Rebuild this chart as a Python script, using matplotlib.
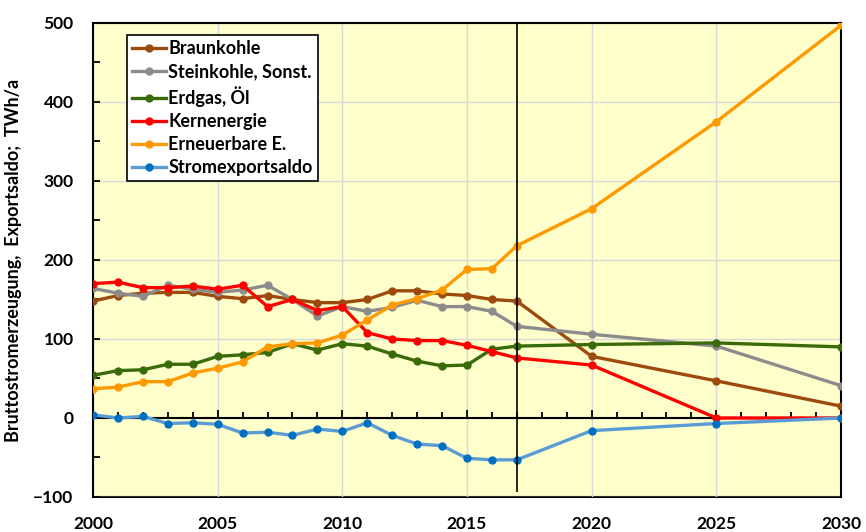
import matplotlib.pyplot as plt
from matplotlib.ticker import MultipleLocator

years = [2000, 2001, 2002, 2003, 2004, 2005, 2006, 2007, 2008, 2009, 2010,
         2011, 2012, 2013, 2014, 2015, 2016, 2017, 2020, 2025, 2030]

braunkohle = [148, 155, 158, 159, 159, 154, 151, 155, 150, 146, 146,
              150, 161, 161, 157, 155, 150, 148, 78, 47, 15]
steinkohle = [164, 158, 154, 168, 163, 159, 162, 168, 150, 129, 141,
              135, 140, 149, 141, 141, 135, 116, 106, 91, 41]
erdgas = [54, 60, 61, 68, 68, 78, 80, 83, 94, 86, 94,
          91, 81, 72, 66, 67, 87, 91, 93, 95, 90]
kernenergie = [170, 172, 165, 165, 167, 163, 168, 141, 150, 136, 141,
               108, 100, 98, 98, 92, 84, 76, 67, 0, 0]
erneuerbare = [37, 39, 46, 46, 57, 63, 71, 90, 94, 95, 105,
               124, 143, 151, 162, 188, 189, 218, 265, 375, 497]
exportsaldo = [4, 0, 2, -7, -6, -8, -19, -18, -22, -14, -17,
               -6, -22, -33, -35, -51, -53, -53, -16, -7, 0]

series = [
    ('Braunkohle', braunkohle, '#9C4A0E', '#9C4A0E'),
    ('Steinkohle, Sonst.', steinkohle, '#8C8C8C', '#8C8C8C'),
    ('Erdgas, Öl', erdgas, '#3A6B0A', '#3A6B0A'),
    ('Kernenergie', kernenergie, '#FF0000', '#FF0000'),
    ('Erneuerbare E.', erneuerbare, '#FF9900', '#FF9900'),
    ('Stromexportsaldo', exportsaldo, '#5B9BD5', '#0070C0'),
]

plt.rcParams['font.family'] = ['Lato', 'DejaVu Sans']
plt.rcParams['font.weight'] = 'bold'

fig = plt.figure(figsize=(8.66, 5.32), dpi=100)
ax = fig.add_axes([0.1074, 0.0658, 0.8637, 0.891])
ax.set_facecolor('#FFFFCC')

for name, vals, col, mcol in series:
    ax.plot(years, vals, color=col, lw=2.4, marker='o', ms=5,
            mfc=mcol, mec=mcol, label=name, zorder=3)

ax.vlines(2017, -94, 500, color='black', lw=1.2, zorder=4)

ax.set_xlim(2000, 2030)
ax.set_ylim(-100, 500)
ax.yaxis.set_major_locator(MultipleLocator(100))
ax.yaxis.set_minor_locator(MultipleLocator(50))
ax.xaxis.set_major_locator(MultipleLocator(5))
ax.xaxis.set_minor_locator(MultipleLocator(1))
ax.grid(True, which='major', color='#D9D9D9', lw=1, zorder=0)
ax.set_axisbelow(True)

# horizontal axis crosses at 0, labels stay at the bottom
ax.spines['bottom'].set_position(('data', 0))
ax.spines['bottom'].set_linewidth(1.5)
ax.tick_params(axis='x', which='both', direction='in', labelbottom=False,
               width=1.3)
ax.tick_params(axis='x', which='major', length=6)
ax.tick_params(axis='x', which='minor', length=4)
ax.tick_params(axis='y', which='both', direction='in', length=5, width=1.3,
               labelsize=12.5, pad=14)
for s in ['left', 'top', 'right']:
    ax.spines[s].set_linewidth(1.5)

sec = ax.secondary_xaxis('bottom')
sec.set_xticks(range(2000, 2031, 5))
sec.tick_params(length=0, labelsize=12.5, pad=14)
sec.spines['bottom'].set_linewidth(1.5)
for lab in sec.get_xticklabels() + ax.get_yticklabels():
    lab.set_fontweight('bold')

ax.set_ylabel('Bruttostromerzeugung,  Exportsaldo;  TWh/a', fontsize=13,
              fontweight='bold', labelpad=8)

leg = ax.legend(loc='upper left', bbox_to_anchor=(0.045, 0.975),
                frameon=True, fancybox=False, edgecolor='black',
                facecolor='white', framealpha=1, fontsize=13,
                handlelength=1.9, handletextpad=0.1, labelspacing=0.33,
                borderpad=0.3, borderaxespad=0)
leg.get_frame().set_linewidth(1.2)
for t in leg.get_texts():
    t.set_fontweight('bold')

fig.savefig('out.png', dpi=100)
